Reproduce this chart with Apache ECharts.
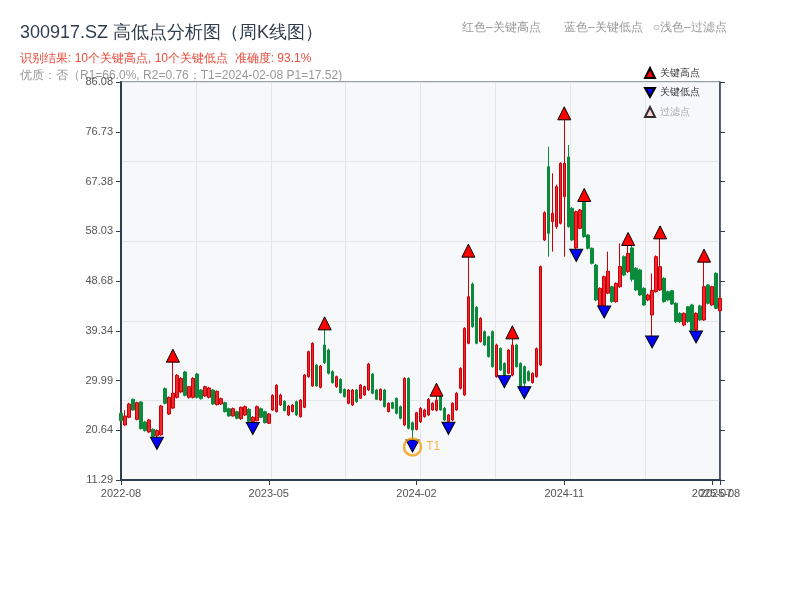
<!DOCTYPE html>
<html><head><meta charset="utf-8">
<script src="https://cdn.jsdelivr.net/npm/echarts@6/dist/echarts.min.js"></script>
<style>html,body{margin:0;padding:0;background:#fff}#c{width:800px;height:600px}</style>
</head><body><div id="c"></div>
<script>
const dates = ['2022-08-26','2022-09-02','2022-09-09','2022-09-16','2022-09-23','2022-09-30','2022-10-14','2022-10-21','2022-10-28','2022-11-04','2022-11-11','2022-11-18','2022-11-25','2022-12-02','2022-12-09','2022-12-16','2022-12-23','2022-12-30',
'2023-01-06','2023-01-13','2023-01-20','2023-02-03','2023-02-10','2023-02-17','2023-02-24','2023-03-03','2023-03-10','2023-03-17','2023-03-24','2023-03-31','2023-04-07','2023-04-14','2023-04-21','2023-04-28','2023-05-05','2023-05-12','2023-05-19','2023-05-26',
'2023-06-02','2023-06-09','2023-06-16','2023-06-21','2023-06-30','2023-07-07','2023-07-14','2023-07-21','2023-07-28','2023-08-04','2023-08-11','2023-08-18','2023-08-25','2023-09-01','2023-09-08','2023-09-15','2023-09-22','2023-09-28',
'2023-10-13','2023-10-20','2023-10-27','2023-11-03','2023-11-10','2023-11-17','2023-11-24','2023-12-01','2023-12-08','2023-12-15','2023-12-22','2023-12-29',
'2024-01-05','2024-01-12','2024-01-19','2024-01-26','2024-02-02','2024-02-08',
'2024-02-23','2024-03-01','2024-03-08','2024-03-15','2024-03-22','2024-03-29','2024-04-03','2024-04-12','2024-04-19','2024-04-26','2024-04-30',
'2024-05-10','2024-05-17','2024-05-24','2024-05-31','2024-06-07','2024-06-14','2024-06-21','2024-06-28','2024-07-05','2024-07-12','2024-07-19','2024-07-26','2024-08-02','2024-08-09','2024-08-16','2024-08-23','2024-08-30','2024-09-06','2024-09-13','2024-09-20','2024-09-27','2024-09-30',
'2024-10-11','2024-10-18','2024-10-25','2024-11-01','2024-11-08',
'2024-11-15','2024-11-22','2024-11-29','2024-12-06','2024-12-13','2024-12-20','2024-12-27',
'2025-01-03','2025-01-10','2025-01-17','2025-01-24','2025-01-27','2025-02-07','2025-02-14','2025-02-21','2025-02-28',
'2025-03-07','2025-03-14','2025-03-21','2025-03-28','2025-04-03','2025-04-11','2025-04-18','2025-04-25','2025-04-30',
'2025-05-09','2025-05-16','2025-05-23','2025-05-30','2025-06-06','2025-06-13','2025-06-20','2025-06-27','2025-07-04','2025-07-11','2025-07-18','2025-07-25','2025-08-01','2025-08-08'];

const openP = [23.82,21.63,23.07,26.45,22.69,25.95,22.19,20.31,20.81,19.6,19.81,28.45,23.69,24.8,26.82,27.83,31.59,26.82,26.82,31.21,
28.20,27.08,26.82,28.20,25.45,25.57,25.82,24.69,23.32,24.13,22.81,23.50,24.57,22.2,22.44,24.69,24.13,21.94,24.44,24.13,
25.38,26.07,23.50,24.13,26.01,23.19,24.95,30.71,28.95,32.90,28.70,36.66,35.72,31.65,28.83,30.21,28.33,25.70,25.39,28.20,
26.64,27.26,28.20,31.21,28.20,26.32,28.20,24.13,25.82,26.64,25.07,21.63,30.39,22.06,20.81,22.25,23.19,23.51,24.45,24.4,
27.14,24.76,22.3,22.57,24.45,28.52,27.26,36.97,48.12,43.74,37.3,39.17,38.23,39.17,30.71,36.03,33.21,31.34,31.02,36.66,
33.21,32.59,31.65,29.6,30.71,32.90,56.39,70.17,59.84,58.90,59.52,64.53,72.0,62.34,54.9,58.58,63.5,57.33,54.83,51.69,
43.86,44.1,46.4,47.62,44.80,47.6,53.26,50.44,54.9,51.07,50.75,47.31,45.12,42.3,46.68,47.00,49.19,46.68,46.87,44.49,
42.61,40.42,43.86,44.18,39.48,44.0,41.36,47.94,44.18,50.13,43.11];
const closeP = [22.44,23.32,25.57,24.44,25.82,20.93,20.56,22.57,19.5,20.56,25.20,25.70,26.82,27.6,30.96,30.39,27.20,28.83,30.39,26.82,
26.57,28.83,28.58,25.57,27.95,26.57,24.13,23.32,24.69,22.88,24.95,25.07,22.32,23.07,25.07,23.07,22.07,23.69,27.20,29.08,
27.26,24.32,25.20,25.38,23.50,26.32,31.02,35.41,36.97,28.96,32.71,33.34,31.34,29.58,30.71,27.70,26.95,28.20,28.20,26.01,
29.14,28.83,33.09,27.58,26.45,28.33,25.07,25.70,24.76,23.82,22.88,30.39,21.00,20.69,23.94,24.76,24.45,26.45,25.70,26.3,
24.45,22.57,23.51,25.70,27.58,32.27,39.79,45.74,40.10,36.97,41.67,36.66,34.47,32.59,36.66,31.96,31.02,35.72,36.66,32.59,
28.83,29.46,30.0,31.34,35.97,51.38,61.53,57.64,61.40,66.41,70.80,70.80,58.90,56.39,61.72,62.03,57.02,54.83,52.01,45.12,
47.31,49.50,50.5,44.80,48.25,51.4,49.81,53.88,49.0,47.00,46.06,44.18,46.06,46.9,53.26,51.38,44.80,45.12,44.36,41.04,
41.04,42.61,41.04,39.48,42.61,41.36,47.62,44.49,47.62,43.55,45.43];
const lowP = [22.3,21.5,22.9,24.3,22.5,20.8,20.4,20.1,19.4,19.31,19.6,25.5,23.5,24.6,26.6,27.6,27.0,26.6,26.6,26.6,
26.4,26.9,26.6,25.4,25.3,25.4,24.0,23.2,23.2,22.7,22.6,23.3,22.2,22.1,22.3,22.9,21.9,21.8,24.3,24.0,
25.2,24.2,23.3,24.0,23.3,23.0,24.8,30.5,28.8,28.8,28.5,33.1,31.1,29.4,28.6,27.5,26.8,25.5,25.2,25.8,
26.5,27.1,28.0,27.4,26.3,26.1,24.9,24.0,24.6,23.6,22.7,21.4,20.8,18.81,20.6,22.0,23.0,23.3,24.3,24.2,
24.3,22.4,22.13,22.4,24.3,28.3,27.1,36.8,39.9,36.8,37.1,36.5,34.3,32.4,30.5,31.8,30.90,31.2,30.8,32.4,
28.7,28.83,29.8,29.4,30.5,32.7,56.2,53.26,54.20,58.5,59.3,53.26,58.7,56.2,54.64,58.4,56.8,54.6,51.8,44.9,
43.7,43.99,46.2,44.6,44.6,47.4,49.6,50.2,48.56,46.8,45.9,44.0,44.9,38.35,46.5,46.8,44.6,44.9,44.2,40.8,
40.8,40.2,40.8,39.3,39.29,41.2,41.2,44.3,44.0,43.4,42.9];
const highP = [24.0,24.4,25.8,26.6,26.0,26.1,22.4,22.8,21.0,20.8,25.4,28.7,27.0,33.53,31.2,30.6,31.8,29.0,30.6,31.4,
28.4,29.0,28.8,28.4,28.1,26.8,26.0,24.9,24.9,24.3,25.1,25.3,24.8,23.3,25.3,24.9,24.3,23.9,27.4,29.3,
27.5,26.3,25.4,25.6,26.2,26.5,31.2,35.6,37.2,33.1,32.9,39.60,36.0,31.9,30.9,30.4,28.5,28.4,28.4,28.4,
29.3,29.0,33.3,31.4,28.4,28.5,28.4,25.9,26.0,26.8,25.3,30.6,30.6,22.3,24.1,25.0,24.7,26.7,25.9,27.14,
27.3,25.0,23.7,25.9,27.8,32.5,40.0,53.26,48.4,44.0,41.9,39.4,38.4,39.4,36.9,36.2,33.4,35.9,37.91,36.9,
33.4,32.8,31.9,31.5,36.2,51.6,61.8,73.93,68.92,66.8,71.0,79.07,74.24,62.6,61.9,62.2,63.72,57.5,55.0,51.9,
47.5,49.7,54.2,47.8,48.4,55.76,53.5,55.45,55.4,51.3,51.0,47.5,46.3,50.1,53.5,56.70,49.4,46.9,47.0,44.7,
42.8,42.8,44.0,44.4,42.8,44.2,52.32,48.1,47.8,50.3,45.6];

const keyHighIdx = [13, 51, 79, 87, 98, 111, 116, 127, 135, 146];
const keyLowIdx = [9, 33, 73, 82, 96, 101, 114, 121, 133, 144];
const t1Idx = 73;
const labelStep = 37;
const yMin = 11.29, yMax = 86.08, ySplits = 8;

const titleText = '300917.SZ 高低点分析图（周K线图）';
const resultText = '识别结果: 10个关键高点, 10个关键低点  准确度: 93.1%';
const qualityText = '优质：否（R1=66.0%, R2=0.76；T1=2024-02-08 P1=17.52)';
const noteText = '红色–关键高点       蓝色–关键低点   ○浅色–过滤点';

const kData = dates.map((d, i) => [openP[i], closeP[i], lowP[i], highP[i]]);
const highPts = keyHighIdx.map(i => [i, highP[i]]);
const lowPts = keyLowIdx.map(i => [i, lowP[i]]);
const downTri = 'path://M0,0L20,0L10,18Z';
const showLabel = (idx) => idx % labelStep === 0 || idx === dates.length - 1;

const chart = echarts.init(document.getElementById('c'));
const axisDark = '#2c3e50';
chart.setOption({
  animation: false,
  backgroundColor: '#fff',
  graphic: [
    {type:'text', x:20, y:33, style:{text:titleText, fontSize:18, fill:'#2f3d4d', verticalAlign:'middle'}},
    {type:'text', x:20, y:59, style:{text:resultText, fontSize:12, fill:'#e74c3c', verticalAlign:'middle'}},
    {type:'text', x:20, y:76, style:{text:qualityText, fontSize:12, fill:'#999', verticalAlign:'middle'}},
    {type:'text', x:462, y:28, style:{text:noteText, fontSize:12, fill:'#999', verticalAlign:'middle'}}
  ],
  legend: {
    orient:'vertical', left:639, top:62, itemWidth:10, itemHeight:10, itemGap:8,
    textStyle:{fontSize:10, color:'#333'},
    data:[{name:'关键高点'},{name:'关键低点'},{name:'过滤点', textStyle:{color:'#aaa'}}]
  },
  grid: {left:121, right:80, top:82, bottom:120, show:true, backgroundColor:'#f6f8fa', borderColor:axisDark, borderWidth:1},
  xAxis: [
    {type:'category', data:dates, boundaryGap:false,
     axisLine:{lineStyle:{color:axisDark, width:2}},
     axisTick:{length:5, interval:showLabel, lineStyle:{color:axisDark}},
     axisLabel:{interval:0, hideOverlap:false, color:'#555', fontSize:11,
       formatter:(v, idx) => showLabel(idx) ? v.slice(0,7) : ''},
     splitLine:{show:false}},
    {type:'value', min:0, max:8, interval:1, position:'top',
     axisLine:{show:false}, axisTick:{show:false}, axisLabel:{show:false},
     splitLine:{show:true, lineStyle:{color:'#e2e5ea', width:1}}}
  ],
  yAxis: [
    {type:'value', min:yMin, max:yMax, interval:(yMax-yMin)/ySplits,
     axisLine:{show:true, lineStyle:{color:axisDark, width:2}},
     axisTick:{show:true, length:5, lineStyle:{color:axisDark}},
     axisLabel:{color:'#555', fontSize:11, formatter:v => v.toFixed(2)},
     splitLine:{show:false}},
    {type:'value', min:yMin, max:yMax, interval:(yMax-yMin)/ySplits, position:'right',
     axisLine:{show:true, lineStyle:{color:axisDark, width:1.5}},
     axisTick:{show:true, length:5, lineStyle:{color:axisDark}},
     axisLabel:{show:false}, splitLine:{show:false}},
    {type:'value', min:0, max:5, interval:1, position:'right', offset:0,
     axisLine:{show:false}, axisTick:{show:false}, axisLabel:{show:false},
     splitLine:{show:true, lineStyle:{color:'#e2e5ea', width:1}}}
  ],
  series: [
    {type:'candlestick', name:'K线', data:kData, barWidth:3, clip:false,
     itemStyle:{color:'#f0282d', color0:'#0c8a3c', borderColor:'#c8000a', borderColor0:'#0c8a3c', borderWidth:1}},
    {type:'scatter', name:'关键高点', data:highPts, symbol:'triangle', symbolSize:13, symbolOffset:[0,-6], z:5,
     itemStyle:{color:'#ff0000', borderColor:'#000', borderWidth:1, opacity:1}},
    {type:'scatter', name:'关键低点', data:lowPts, symbol:downTri, symbolSize:[13,12], symbolOffset:[0,6], z:5,
     itemStyle:{color:'#0000ff', borderColor:'#000', borderWidth:1, opacity:1}},
    {type:'scatter', name:'过滤点', data:[], symbol:'triangle', symbolSize:8,
     itemStyle:{color:'#ffd0d0', borderColor:'#000', borderWidth:1}},
    {type:'scatter', name:'T1', data:[[t1Idx, lowP[t1Idx]]], symbol:'circle', symbolSize:17, symbolOffset:[0,7], z:6,
     itemStyle:{color:'rgba(0,0,0,0)', borderColor:'#f39c12', borderWidth:2.5},
     label:{show:true, position:'right', formatter:'T1', color:'#f5a623', fontSize:12, distance:4}}
  ]
});
</script></body></html>
